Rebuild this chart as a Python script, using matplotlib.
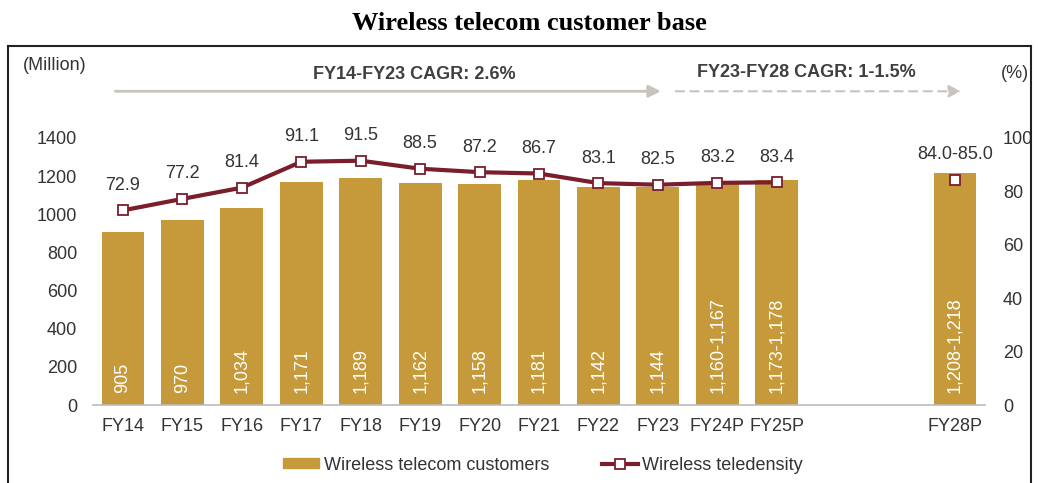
import matplotlib
matplotlib.use("Agg")
import matplotlib.pyplot as plt
from matplotlib.lines import Line2D
from matplotlib.patches import Patch

plt.rcParams['font.family'] = ['Liberation Sans', 'DejaVu Sans']

categories = ["FY14", "FY15", "FY16", "FY17", "FY18", "FY19", "FY20", "FY21",
              "FY22", "FY23", "FY24P", "FY25P", "FY28P"]
positions = [0, 1, 2, 3, 4, 5, 6, 7, 8, 9, 10, 11, 14]
customers = [905, 970, 1034, 1171, 1189, 1162, 1158, 1181, 1142, 1144, 1167, 1178, 1218]
customer_labels = ["905", "970", "1,034", "1,171", "1,189", "1,162", "1,158", "1,181",
                   "1,142", "1,144", "1,160-1,167", "1,173-1,178", "1,208-1,218"]
teledensity = [72.9, 77.2, 81.4, 91.1, 91.5, 88.5, 87.2, 86.7, 83.1, 82.5, 83.2, 83.4, 84.3]
teledensity_labels = ["72.9", "77.2", "81.4", "91.1", "91.5", "88.5", "87.2", "86.7",
                      "83.1", "82.5", "83.2", "83.4", "84.0-85.0"]

BAR = "#C69A3B"
LINE = "#7B1E2B"
TXT = "#333333"
ARROW = "#C9C4BB"
FS = 13

W, H = 1038, 483
fig = plt.figure(figsize=(W / 100, H / 100), dpi=100)

def fx(px):
    return px / W

def fy(py):
    return 1 - py / H

ax = fig.add_axes([fx(93.3), fy(405), fx(984.7) - fx(93.3), fy(138) - fy(405)])
ax.bar(positions, customers, width=0.72, color=BAR, zorder=2)
ax.set_xlim(-0.5, 14.5)
ax.set_ylim(0, 1400)
ax.set_yticks(range(0, 1401, 200))
ax.set_xticks(positions)
ax.set_xticklabels(categories)
ax.tick_params(axis='both', length=0, labelsize=FS, colors=TXT)
ax.tick_params(axis='x', pad=9.5)
ax.tick_params(axis='y', pad=11.5)
for s in ['top', 'left', 'right']:
    ax.spines[s].set_visible(False)
ax.spines['bottom'].set_color('#BBBBBB')
ax.spines['bottom'].set_linewidth(1.2)

for x, lab in zip(positions, customer_labels):
    ax.text(x, 62, lab, rotation=90, ha='center', va='bottom', color='white',
            fontsize=FS, zorder=3)

ax2 = ax.twinx()
ax2.set_ylim(0, 100)
ax2.set_yticks(range(0, 101, 20))
ax2.tick_params(axis='y', length=0, labelsize=FS, colors=TXT, pad=13)
for s in ['top', 'left', 'right', 'bottom']:
    ax2.spines[s].set_visible(False)

ax2.plot(positions[:12], teledensity[:12], color=LINE, lw=3, marker='s', ms=7.5,
         mfc='white', mec=LINE, mew=1.3, zorder=4)
ax2.plot(positions[12:], teledensity[12:], ls='none', marker='s', ms=7.5,
         mfc='white', mec=LINE, mew=1.3, zorder=4)
for x, v, lab in zip(positions, teledensity, teledensity_labels):
    ax2.annotate(lab, (x, v), xytext=(0, 18), textcoords='offset points',
                 ha='center', va='center', fontsize=FS, color=TXT)

# CAGR arrows
ax.annotate("", xy=(9.05, 1645), xytext=(-0.13, 1645), annotation_clip=False,
            arrowprops=dict(arrowstyle='-|>', color=ARROW, lw=2,
                            mutation_scale=18, shrinkA=0, shrinkB=0))
ax.annotate("", xy=(14.1, 1645), xytext=(9.3, 1645), annotation_clip=False,
            arrowprops=dict(arrowstyle='-|>', color=ARROW, lw=1.5, ls=(0, (4, 3)),
                            mutation_scale=18, shrinkA=0, shrinkB=0))
ax.text(4.9, 1735, "FY14-FY23 CAGR: 2.6%", ha='center', va='center',
        fontsize=FS, fontweight='bold', color='#404040', clip_on=False)
ax.text(11.5, 1745, "FY23-FY28 CAGR: 1-1.5%", ha='center', va='center',
        fontsize=FS, fontweight='bold', color='#404040', clip_on=False)

fig.text(fx(55), fy(66), "(Million)", ha='center', va='center', fontsize=FS, color=TXT)
fig.text(fx(1015), fy(73), "(%)", ha='center', va='center', fontsize=FS, color=TXT)

fig.text(fx(529), fy(23), "Wireless telecom customer base", ha='center', va='center',
         fontsize=19, fontweight='bold', family='Liberation Serif', color='black')

# frame
frame_kw = dict(color='#222222', lw=1.5, transform=fig.transFigure)
fig.add_artist(Line2D([fx(8), fx(1031)], [fy(46), fy(46)], **frame_kw))
fig.add_artist(Line2D([fx(8), fx(8)], [fy(46), 0], **frame_kw))
fig.add_artist(Line2D([fx(1031), fx(1031)], [fy(46), 0], **frame_kw))

handles = [Patch(color=BAR, label="Wireless telecom customers"),
           Line2D([0], [0], color=LINE, lw=3, marker='s', ms=7.5, mfc='white',
                  mec=LINE, mew=1.3, label="Wireless teledensity")]
fig.legend(handles=handles, loc='center', bbox_to_anchor=(fx(543), fy(465)), ncol=2,
           frameon=False, fontsize=FS, handlelength=2.0, handletextpad=0.25,
           handleheight=0.5, columnspacing=2.9, labelcolor=TXT)

fig.savefig("out.png", dpi=100)
